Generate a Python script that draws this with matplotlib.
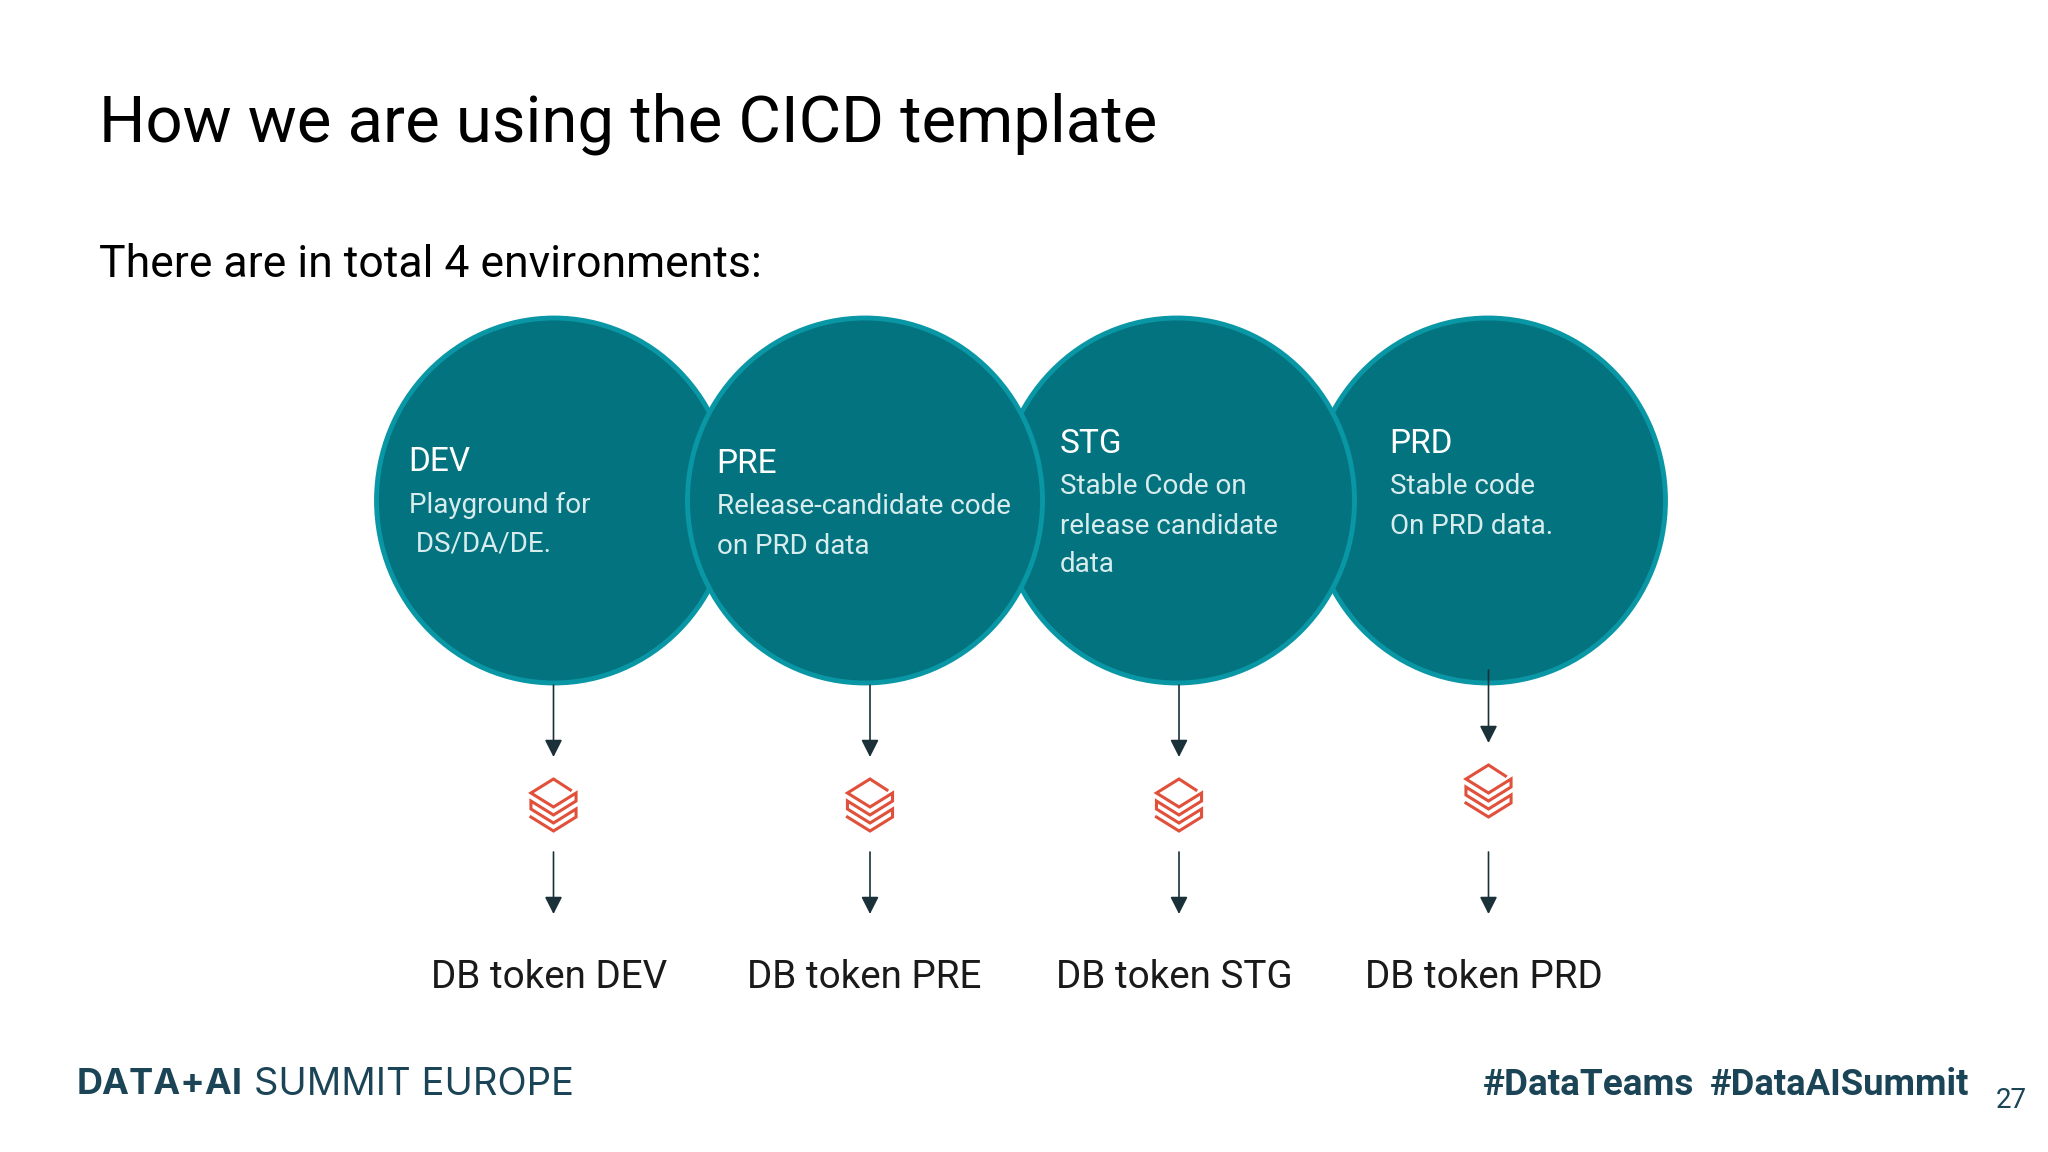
# -*- coding: utf-8 -*-
"""CICD template slide: 4 environments, tokens per environment"""

import matplotlib
matplotlib.use("Agg")
import matplotlib.pyplot as plt
from matplotlib.patches import Ellipse

plt.rcParams['font.family'] = ['Roboto', 'DejaVu Sans']

W, H = 2048, 1152
TEAL = "#03747F"
TEAL_EDGE = "#0A97A5"
DARK = "#1B3139"
NAVY = "#1B4557"
RED = "#E0503B"

env_names = ["DEV", "PRE", "STG", "PRD"]
env_desc = [
    ["Playground for", " DS/DA/DE."],
    ["Release-candidate code", "on PRD data"],
    ["Stable Code on", "release candidate", "data"],
    ["Stable code", "On PRD data."],
]
token_labels = ["DB token DEV", "DB token PRE", "DB token STG", "DB token PRD"]

circle_x = [554, 865, 1177, 1488]
arrow_x = [553.5, 870, 1179, 1488.5]
name_x = [408, 716, 1060, 1389]
text_x = [409, 717, 1060, 1390]
name_y = [462, 464, 444, 444]
token_x = [431, 747, 1056, 1365]
arrow_top = [685, 685, 685, 670]
arrow_tip = [757, 757, 757, 743]
icon_y = [805, 805, 805, 791]
draw_order = [3, 0, 2, 1]

# logo outline, offsets from its centre
icon_dx = [18, 0, -24, 0, 24, 24, 0, -24, -24, 0, 24, 24, 0, -24]
icon_dy = [-15, -26, -12, 2, -12, -4, 10, -4, 4, 18, 4, 12, 26, 12]

fig = plt.figure(figsize=(W / 100, H / 100), dpi=100, facecolor="white")
ax = fig.add_axes([0, 0, 1, 1])
ax.set_xlim(0, W)
ax.set_ylim(H, 0)
ax.axis("off")

ax.text(99, 124, "How we are using the CICD template", fontsize=47, color="black", va="center")
ax.text(99, 265, "There are in total 4 environments:", fontsize=32, color="black", va="center")

for z, i in enumerate(draw_order):
    ax.add_patch(Ellipse((circle_x[i], 500.5), 355, 365, facecolor=TEAL, edgecolor=TEAL_EDGE,
                         linewidth=3.5, zorder=2 + z))


def arrow(x, y0, y1):
    ax.annotate("", xy=(x, y1), xytext=(x, y0), zorder=8,
                arrowprops=dict(arrowstyle="-|>,head_length=0.75,head_width=0.38", color=DARK, lw=1.2,
                                shrinkA=0, shrinkB=0, mutation_scale=14))


for i in range(4):
    ax.text(name_x[i], name_y[i], env_names[i], fontsize=24, color="white", va="center", zorder=10)
    for j, line in enumerate(env_desc[i]):
        ax.text(text_x[i], name_y[i] + 43 + j * 39, line, fontsize=20, color="#D8ECEE", va="center", zorder=10)
    arrow(arrow_x[i], arrow_top[i], arrow_tip[i])
    ax.plot([arrow_x[i] + d * 0.94 for d in icon_dx], [icon_y[i] + d for d in icon_dy], color=RED, lw=2.2,
            solid_joinstyle="miter", zorder=8)
    arrow(arrow_x[i], 852, 914)
    ax.text(token_x[i], 977, token_labels[i], fontsize=27.8, color="#1A1A1A", va="center")

ax.text(77, 1085, "DATA+AI", fontsize=26, fontweight="bold", color=NAVY, va="center", family=["Inter", "DejaVu Sans"])
ax.text(254, 1085, "SUMMIT EUROPE", fontsize=27.5, color=NAVY, va="center", family=["Inter", "DejaVu Sans"])
ax.text(1483, 1085, "#DataTeams", fontsize=26.6, fontweight="bold", color=NAVY, va="center")
ax.text(1710, 1085, "#DataAISummit", fontsize=26.2, fontweight="bold", color=NAVY, va="center")
ax.text(1996, 1100, "27", fontsize=20, color=NAVY, va="center")

fig.savefig("out.png", dpi=100)
